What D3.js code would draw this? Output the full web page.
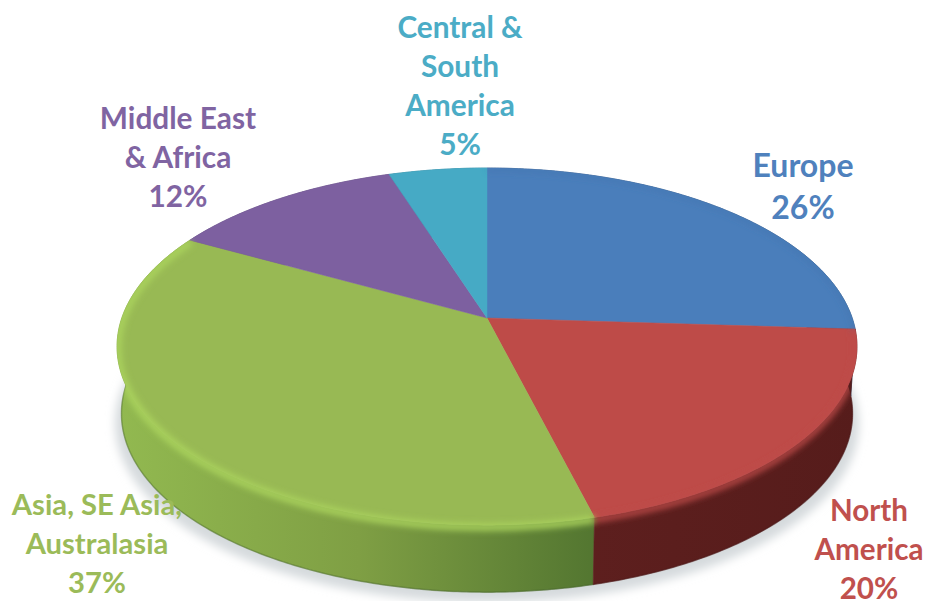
<!DOCTYPE html>
<html>
<head>
    <title>Regions pie</title>
    <meta charset='utf-8'>
    <script src='https://cdn.jsdelivr.net/npm/d3@7'></script>
    <style>
        html, body { margin: 0; padding: 0; background: #fff; }
        text { font-family: Lato, Carlito, sans-serif; font-weight: 700; text-anchor: middle; }
    </style>
</head>
<body>
<script>
// ---- data
const categories = ['Europe', 'North America', 'Asia, SE Asia, Australasia', 'Middle East & Africa', 'Central & South America'];
const shares = [26, 20, 37, 12, 5];
const labelLines = [
    ['Europe', '26%'],
    ['North', 'America', '20%'],
    ['Asia, SE Asia,', 'Australasia', '37%'],
    ['Middle East', '& Africa', '12%'],
    ['Central &', 'South', 'America', '5%']
];

// ---- styling, same order as categories
const topColors = ['#4a7ebb', '#be4b48', '#98b954', '#7d60a0', '#46aac5'];
const textColors = ['#4f81bd', '#c0504d', '#9bbb59', '#8064a2', '#4bacc6'];
const sideLeft = ['#2f5587', '#6a2423', '#92b950', '#5b4476', '#2f7f96'];
const sideRight = ['#27466f', '#561c1b', '#527530', '#5b4476', '#2f7f96'];
const rimColors = ['#3f6ea6', '#be4b48', '#aad35d'];
const rimWidths = [1.5, 6, 7];
const labelX = [803, 869, 97, 178, 460];
const labelY = [177, 521, 515, 129, 38];
const lineGap = [42, 39, 39, 39, 39];
const labelSize = [32, 29.6, 29.2, 29.8, 29.8];

const width = 926, height = 601;
const svg = d3.select('body').append('svg').attr('width', width).attr('height', height);

// pie apex and perspective of the tilted disc
const cx = 487, cy = 318, A = 365.2, B = 174, k = 0.16, depth = 67, wallShrink = 0.988;

function project(a, drop, shrink) {
    const u = Math.sin(a), v = Math.cos(a), w = 1 + k * v;
    return [cx + shrink * A * u / w, cy + drop - B * v / w];
}
const line = d3.line();
const pie = d3.pie().sort(null).startAngle(0).endAngle(2 * Math.PI);
const slices = pie(shares);

function arcPoints(d, drop, shrink) {
    const n = Math.ceil((d.endAngle - d.startAngle) / 0.01);
    return d3.range(n + 1).map(i => project(d.startAngle + (d.endAngle - d.startAngle) * i / n, drop, shrink));
}

const defs = svg.append('defs');
defs.append('filter').attr('id', 'blur2').attr('x', '-10%').attr('y', '-10%').attr('width', '120%').attr('height', '120%')
    .append('feGaussianBlur').attr('stdDeviation', 3);
defs.append('filter').attr('id', 'blur6').attr('x', '-10%').attr('y', '-10%').attr('width', '120%').attr('height', '120%')
    .append('feGaussianBlur').attr('stdDeviation', 5);

slices.forEach((d, i) => {
    const g = defs.append('linearGradient').attr('id', 'side' + i)
        .attr('gradientUnits', 'userSpaceOnUse')
        .attr('x1', 117).attr('x2', i == 2 ? 600 : 860).attr('y1', 0).attr('y2', 0);
    g.append('stop').attr('offset', 0).attr('stop-color', sideLeft[i]);
    if (i == 2) g.append('stop').attr('offset', 0.5).attr('stop-color', '#7f9f44');
    g.append('stop').attr('offset', 1).attr('stop-color', sideRight[i]);
});

const whole = { startAngle: 0, endAngle: 2 * Math.PI };

// rim blur must stay inside the disc outline
const clip = defs.append('clipPath').attr('id', 'discClip');
clip.append('path').attr('d', line(arcPoints(whole, 0, 1)) + 'Z');
clip.append('path').attr('d', line(arcPoints(whole, depth, wallShrink)) + 'Z');

// soft shadow under the disc
svg.append('path')
    .attr('d', line(arcPoints(whole, depth + 10, 1.005)) + 'Z')
    .attr('fill', '#d5dadd')
    .attr('filter', 'url(#blur6)');

// side walls, back slices first
[4, 3, 0, 2, 1].forEach(i => {
    const d = slices[i];
    const upper = arcPoints(d, 0, 1);
    const lower = arcPoints(d, depth, wallShrink).reverse();
    svg.append('path')
        .attr('d', line(upper.concat(lower)) + 'Z')
        .attr('fill', 'url(#side' + i + ')')
        .attr('stroke', 'url(#side' + i + ')')
        .attr('stroke-width', 0.6);
    // dark lip along the bottom edge
    svg.append('path')
        .attr('d', line(lower))
        .attr('fill', 'none')
        .attr('stroke', d3.color(sideRight[i]).darker(0.6))
        .attr('stroke-opacity', 0.4)
        .attr('stroke-width', 1.5);
});

// top faces
slices.forEach((d, i) => {
    svg.append('path')
        .attr('d', line([[cx, cy]].concat(arcPoints(d, 0, 1))) + 'Z')
        .attr('fill', topColors[i])
        .attr('stroke', topColors[i])
        .attr('stroke-width', 0.5);
});

// rounded edge between top and wall: blurred stroke of each front slice
const rimGroup = svg.append('g').attr('clip-path', 'url(#discClip)');
rimColors.forEach((c, i) => {
    rimGroup.append('path')
        .attr('d', line(arcPoints(slices[i], 2, 0.998)))
        .attr('fill', 'none')
        .attr('stroke', c)
        .attr('stroke-width', rimWidths[i])
        .attr('filter', 'url(#blur2)');
});

// labels
slices.forEach((d, i) => {
    const t = svg.append('text')
        .attr('fill', textColors[i])
        .attr('font-size', labelSize[i])
        .attr('aria-label', categories[i] + ' ' + shares[i] + '%');
    labelLines[i].forEach((s, j) => {
        t.append('tspan').attr('x', labelX[i]).attr('y', labelY[i] + j * lineGap[i]).text(s);
    });
});
</script>
</body>
</html>
